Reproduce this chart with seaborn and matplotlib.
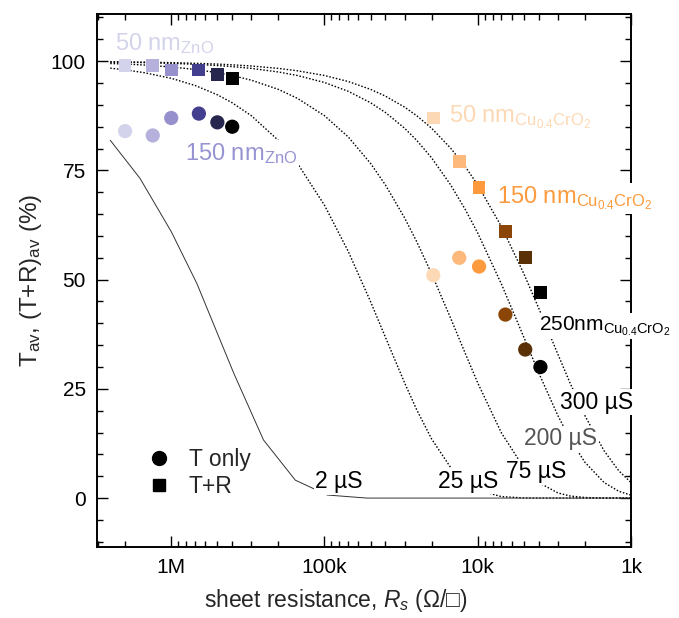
import matplotlib
matplotlib.use("Agg")
import matplotlib.pyplot as plt
import seaborn as sns
import pandas as pd
from matplotlib.lines import Line2D
from matplotlib.ticker import FixedLocator, FixedFormatter, NullFormatter, MultipleLocator, LogLocator

# ---------------- data ----------------
zno_rs = [2.0e6, 1.32e6, 1.0e6, 6.6e5, 5.0e5, 4.0e5]
zno_t_only = [84, 83, 87, 88, 86, 85]
zno_t_plus_r = [99, 99, 98, 98, 97, 96]
zno_colors = ["#d3d3ec", "#b5b1dc", "#9691cd", "#433f8e", "#27264f", "#000000"]

cu_rs = [1.95e4, 1.32e4, 9.8e3, 6.6e3, 4.9e3, 3.9e3]
cu_t_only = [51, 55, 53, 42, 34, 30]
cu_t_plus_r = [87, 77, 71, 61, 55, 47]
cu_colors = ["#fdd8b4", "#fdb97c", "#fd9a3e", "#8a4507", "#5a3007", "#000000"]

curve_rs = [2.5e6, 2e6, 1.5e6, 1e6, 7e5, 5e5, 4e5, 3e5, 2e5, 1.5e5, 1e5, 7e4, 5e4,
            4e4, 3e4, 2.5e4, 2e4, 1.5e4, 1.2e4, 1e4, 7e3, 5e3, 4e3, 3e3, 2.5e3,
            2e3, 1.5e3, 1.2e3, 1e3]
curve_25uS = [98.41, 98.02, 97.37, 96.08, 94.45, 92.31, 90.48, 87.52, 81.87, 76.59,
              67.03, 56.47, 44.93, 36.79, 26.36, 20.19, 13.53, 6.95, 3.57, 1.83,
              0.33, 0.03, 0, 0, 0, 0, 0, 0, 0]
curve_75uS = [99.47, 99.34, 99.12, 98.68, 98.11, 97.37, 96.72, 95.65, 93.55, 91.49,
              87.52, 82.66, 76.59, 71.65, 64.12, 58.67, 51.34, 41.11, 32.92, 26.36,
              14.89, 6.95, 3.57, 1.17, 0.48, 0.13, 0.01, 0, 0]
curve_200uS = [99.80, 99.75, 99.67, 99.50, 99.29, 99.00, 98.76, 98.35, 97.53, 96.72,
               95.12, 93.11, 90.48, 88.25, 84.65, 81.87, 77.88, 71.65, 65.92, 60.65,
               48.96, 36.79, 28.65, 18.89, 13.53, 8.21, 3.57, 1.55, 0.67]
curve_300uS = [99.87, 99.83, 99.78, 99.67, 99.52, 99.34, 99.17, 98.90, 98.35, 97.80,
               96.72, 95.35, 93.55, 92.00, 89.48, 87.52, 84.65, 80.07, 75.75, 71.65,
               62.12, 51.34, 43.46, 32.92, 26.36, 18.89, 10.84, 6.22, 3.57]

curve2_rs = [2.5e6, 1.6e6, 1.0e6, 6.8e5, 3.9e5, 2.5e5, 1.55e5, 1.12e5, 9.6e4, 5.3e4, 1e3]
curve_2uS = [81.9, 73.2, 61.0, 49.1, 28.5, 13.3, 4.1, 1.8, 0.7, 0.0, 0.0]

tick_vals = [1e6, 1e5, 1e4, 1e3]
tick_labels = ["1M", "100k", "10k", "1k"]
y_ticks = [0, 25, 50, 75, 100]

# ---------------- style ----------------
sns.set_style("ticks")
plt.rcParams["font.family"] = ["Liberation Sans", "DejaVu Sans"]
plt.rcParams["mathtext.fontset"] = "custom"
plt.rcParams["mathtext.rm"] = "Liberation Sans"
plt.rcParams["mathtext.it"] = "Liberation Sans:italic"
plt.rcParams["mathtext.bf"] = "Liberation Sans:bold"

fig = plt.figure(figsize=(6.79, 6.18), dpi=100)
ax = fig.add_axes([97 / 679, 1 - 547 / 618, 534 / 679, 533 / 618])
ax.set_xscale("log")

dot = (0, (1.1, 1.3))
for ys in [curve_25uS, curve_75uS, curve_200uS, curve_300uS]:
    sns.lineplot(x=curve_rs, y=ys, ax=ax, sort=False, estimator=None,
                 color="black", lw=1.0, linestyle=dot, zorder=2)
sns.lineplot(x=curve2_rs, y=curve_2uS, ax=ax, sort=False, estimator=None,
             color="#333333", lw=0.7, zorder=2)

keys_z = [f"z{i}" for i in range(6)]
keys_c = [f"c{i}" for i in range(6)]
palette = dict(zip(keys_z, zno_colors))
palette.update(dict(zip(keys_c, cu_colors)))

df_sq = pd.DataFrame({"rs": zno_rs + cu_rs, "t": zno_t_plus_r + cu_t_plus_r,
                      "key": keys_z + keys_c})
df_ci = pd.DataFrame({"rs": zno_rs + cu_rs, "t": zno_t_only + cu_t_only,
                      "key": keys_z + keys_c})
sns.scatterplot(data=df_sq, x="rs", y="t", hue="key", palette=palette, marker="s",
                s=85, linewidth=0, legend=False, ax=ax, zorder=5)
sns.scatterplot(data=df_ci, x="rs", y="t", hue="key", palette=palette, marker="o",
                s=105, linewidth=0, legend=False, ax=ax, zorder=5)

ax.set_xlim(3.05e6, 1e3)
ax.set_ylim(-11.2, 110.8)

ax.xaxis.set_major_locator(FixedLocator(tick_vals))
ax.xaxis.set_major_formatter(FixedFormatter(tick_labels))
ax.xaxis.set_minor_locator(LogLocator(base=10, subs=range(2, 10)))
ax.xaxis.set_minor_formatter(NullFormatter())
ax.yaxis.set_major_locator(FixedLocator(y_ticks))
ax.yaxis.set_minor_locator(MultipleLocator(5))

ax.tick_params(which="both", direction="in", top=True, right=True, width=1.0,
               color="black", labelsize=15, labelcolor="black")
ax.tick_params(which="major", length=8, pad=8)
ax.tick_params(which="minor", length=4.5)
for sp in ax.spines.values():
    sp.set_linewidth(1.4)
    sp.set_color("black")

ax.set_xlabel(r"sheet resistance, $R_s$ (Ω/□)", fontsize=16.5, labelpad=7,
              x=0.448, ha="center")
ax.set_ylabel(r"T$_{\mathrm{av}}$, (T+R)$_{\mathrm{av}}$ (%)", fontsize=17.5, labelpad=5)

wb = dict(facecolor="white", edgecolor="none", pad=1.0)
lab = dict(ha="left", va="baseline", zorder=4)
ax.text(2.33e6, 102.5, r"50 nm$_{\mathrm{ZnO}}$", color="#d3d3ec", fontsize=17, **lab)
ax.text(8.1e5, 77.3, r"150 nm$_{\mathrm{ZnO}}$", color="#9794d2", fontsize=17,
        bbox=wb, **lab)
ax.text(1.54e4, 85.9, r"50 nm$_{\mathrm{Cu_{0.4}CrO_2}}$", color="#fdd8b4",
        fontsize=17, bbox=wb, **lab)
ax.text(7.54e3, 67.4, r"150 nm$_{\mathrm{Cu_{0.4}CrO_2}}$", color="#fd9a3e",
        fontsize=17, bbox=wb, **lab)
ax.text(4.0e3, 38.4, r"250nm$_{\mathrm{Cu_{0.4}CrO_2}}$", color="black",
        fontsize=15, bbox=wb, **lab)
ax.text(2.91e3, 20.5, "300 µS", color="black", fontsize=16.5, bbox=wb, **lab)
ax.text(4.98e3, 12.1, "200 µS", color="#555555", fontsize=16.5, bbox=wb, **lab)
ax.text(6.58e3, 4.5, "75 µS", color="black", fontsize=16.5, bbox=wb, **lab)
ax.text(1.81e4, 2.4, "25 µS", color="black", fontsize=16.5, bbox=wb, **lab)
ax.text(1.15e5, 2.2, "2 µS", color="black", fontsize=16.5, bbox=wb, **lab)

handles = [Line2D([], [], marker="o", color="black", linestyle="none", markersize=10),
           Line2D([], [], marker="s", color="black", linestyle="none", markersize=9)]
ax.legend(handles, ["T only", "T+R"], loc="upper left", bbox_to_anchor=(0.095, 0.186),
          frameon=False, fontsize=16.5, handlelength=1.0, handletextpad=0.8,
          labelspacing=0.2, borderpad=0, borderaxespad=0)

fig.savefig("out.png", dpi=100)
